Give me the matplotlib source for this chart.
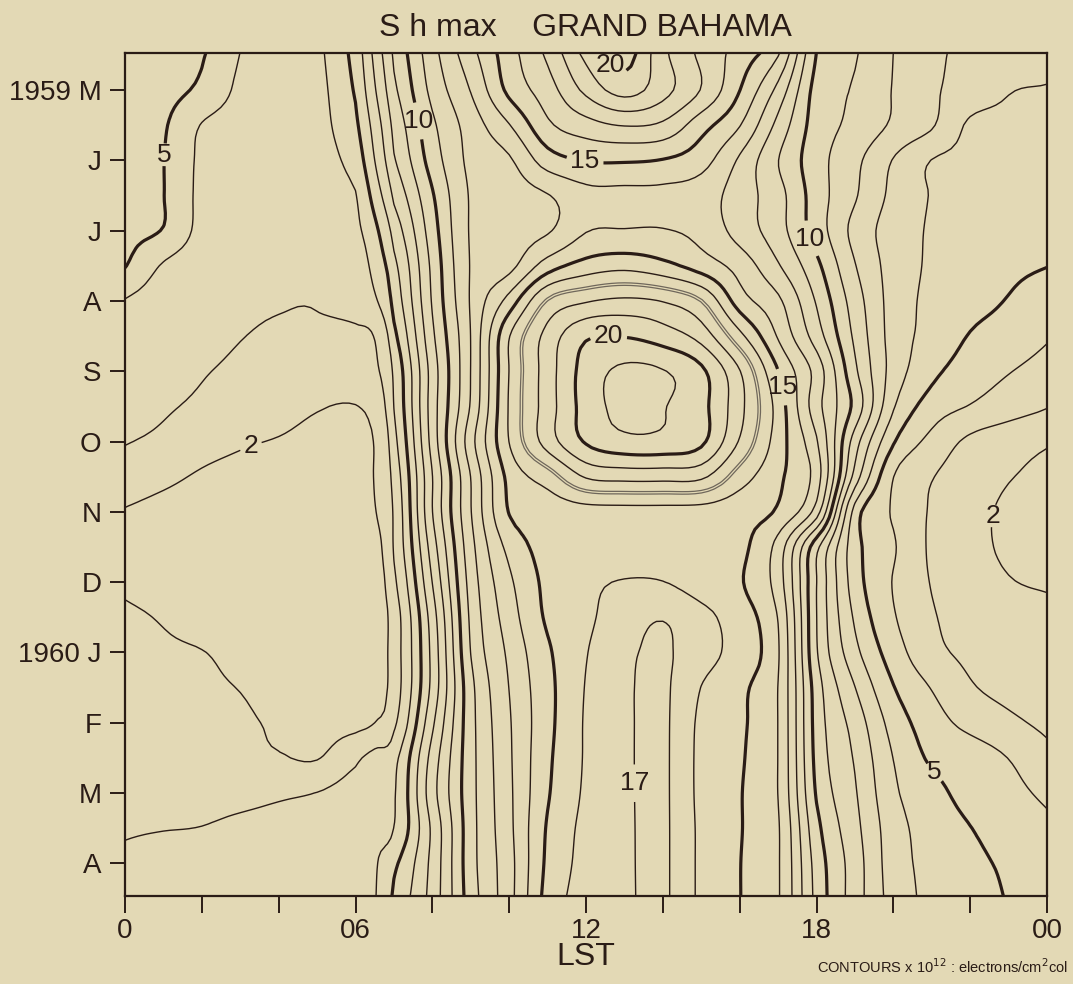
import numpy as np
import matplotlib
matplotlib.use("Agg")
import matplotlib.pyplot as plt

# ---- axes definitions -------------------------------------------------
# local solar time (hours) of the grid columns (extra node at 06.5 LST)
lst_hours = np.array([0, 1, 2, 3, 4, 5, 6, 6.5, 7, 8, 9, 10, 11, 12, 13, 14,
                      15, 16, 17, 18, 19, 20, 21, 22, 23, 24])
# month index of the grid rows (0 = May 1959, 11 = April 1960)
month_idx = np.array([-0.55, 0, 0.5, 1, 1.5, 2, 2.5, 3, 3.5, 4, 4.5, 5, 5.5,
                      6, 6.5, 7, 7.5, 8, 8.5, 9, 9.5, 10, 10.5, 11, 11.5])
month_ticks = np.arange(0, 12)
month_labels = ["1959 M", "J", "J", "A", "S", "O", "N", "D",
                "1960 J", "F", "M", "A"]
hour_ticks = np.arange(0, 25, 2)
hour_labels = {0: "0", 6: "06", 12: "12", 18: "18", 24: "00"}

# ---- S h max, x10^12 electrons/cm^2 column, one row per half month ----
apr59_15 = [5.6, 5.35, 5.1, 4.0, 3.6, 3.8, 5.35, 7.3, 9.2, 11.65, 13.7, 15.6, 17.25, 19.35, 20.5, 18.25, 16.75, 15.6, 14.2, 10.0, 9.1, 8.0, 7.2, 6.8, 6.55, 6.35]
may59_01 = [5.5, 5.3, 4.8, 3.8, 3.5, 3.7, 5.1, 6.9, 8.8, 11.3, 13.05, 15.25, 16.55, 18.25, 19.4, 18.35, 16.95, 15.02, 12.7, 9.65, 8.9, 7.95, 7.15, 6.6, 6.05, 5.95]
may59_15 = [5.4, 5.1, 3.95, 3.6, 3.45, 3.65, 4.8, 6.4, 8.3, 10.8, 12.45, 13.95, 15.8, 16.6, 17.05, 16.8, 15.4, 14.05, 11.7, 9.55, 8.75, 7.85, 7.1, 5.85, 5.8, 5.75]
jun59_01 = [5.35, 5.02, 3.8, 3.5, 3.4, 3.55, 4.4, 6.0, 7.9, 10.45, 12.25, 12.87, 14.5, 15.05, 15.1, 14.95, 14.4, 12.85, 11.02, 9.4, 8.25, 6.95, 5.98, 5.8, 5.6, 5.55]
jun59_15 = [5.3, 5.02, 3.75, 3.45, 3.35, 3.45, 3.95, 5.4, 7.2, 9.9, 12.1, 12.5, 12.95, 13.7, 13.75, 13.75, 13.5, 12.5, 11.35, 9.5, 8.1, 6.75, 5.95, 5.75, 5.55, 5.45]
jul59_01 = [5.25, 4.95, 3.7, 3.35, 3.25, 3.3, 3.75, 4.75, 6.4, 9.55, 12.1, 12.55, 12.9, 13.95, 14.05, 14.05, 13.7, 12.6, 11.4, 9.55, 7.7, 6.55, 5.9, 5.7, 5.45, 5.3]
jul59_15 = [5.05, 3.9, 3.4, 3.2, 3.1, 3.1, 3.35, 4.35, 5.75, 9.25, 12.06, 12.7, 14.5, 15.4, 15.7, 15.3, 14.55, 13.6, 12.1, 10.25, 8.05, 6.6, 5.85, 5.5, 5.2, 5.02]
aug59_01 = [3.95, 3.5, 3.2, 3.08, 3.03, 3.03, 3.25, 3.85, 5.35, 9.1, 12.1, 14.4, 17.1, 17.9, 18.2, 17.95, 17.02, 14.5, 13.2, 10.9, 8.5, 6.6, 5.75, 5.3, 4.95, 4.5]
aug59_15 = [3.7, 3.45, 3.2, 3.02, 2.92, 2.88, 2.85, 3.05, 4.75, 8.8, 12.02, 15.95, 18.35, 19.85, 19.95, 19.5, 18.6, 16.3, 13.9, 11.5, 8.8, 6.6, 5.65, 4.95, 4.6, 4.1]
sep59_01 = [3.45, 3.25, 3.05, 2.85, 2.6, 2.45, 2.5, 2.8, 4.2, 8.45, 12.02, 16.02, 18.5, 20.4, 21.2, 21.05, 20.2, 18.05, 15.02, 12.6, 9.2, 6.6, 5.25, 4.55, 4.05, 3.6]
sep59_15 = [3.3, 3.1, 2.85, 2.6, 2.3, 2.05, 1.98, 2.35, 4.02, 8.5, 12.1, 16.1, 18.5, 20.4, 21.3, 21.05, 20.3, 18.3, 15.6, 12.4, 9.7, 6.1, 4.55, 3.95, 3.45, 3.05]
oct59_01 = [3.05, 2.8, 2.35, 2.1, 1.95, 1.8, 1.85, 2.05, 3.7, 8.4, 12.6, 16.02, 18.45, 20.1, 20.7, 20.7, 20.2, 17.9, 15.5, 13.1, 8.5, 5.1, 3.7, 2.8, 2.4, 2.1]
oct59_15 = [2.5, 2.2, 1.9, 1.75, 1.6, 1.55, 1.6, 2.05, 3.4, 7.98, 12.02, 15.3, 16.5, 18.1, 18.35, 18.35, 18.2, 16.5, 15.2, 13.5, 7.6, 4.02, 3.05, 2.5, 2.05, 1.8]
nov59_01 = [1.95, 1.75, 1.6, 1.5, 1.45, 1.4, 1.5, 1.95, 3.15, 7.98, 11.95, 15.05, 15.4, 15.6, 15.65, 15.65, 15.6, 15.35, 14.85, 12.5, 5.6, 3.9, 2.9, 2.3, 1.85, 1.7]
nov59_15 = [1.8, 1.6, 1.5, 1.45, 1.4, 1.4, 1.5, 1.7, 3.1, 7.5, 11.65, 14.3, 15.35, 15.5, 15.55, 15.55, 15.5, 15.25, 13.6, 9.3, 5.4, 4.1, 2.85, 2.3, 1.85, 1.7]
dec59_01 = [1.9, 1.75, 1.55, 1.5, 1.45, 1.45, 1.55, 1.65, 2.8, 7.02, 11.4, 13.8, 15.25, 15.8, 16.05, 16.02, 15.55, 15.1, 13.5, 9.02, 5.5, 3.95, 2.95, 2.45, 2.05, 1.9]
dec59_15 = [2.1, 1.95, 1.7, 1.55, 1.5, 1.5, 1.6, 1.7, 2.5, 6.5, 11.2, 13.5, 15.15, 15.8, 16.55, 16.95, 16.3, 15.45, 13.95, 9.02, 5.85, 4.1, 3.1, 2.6, 2.35, 2.25]
jan60_01 = [2.2, 2.1, 2.02, 1.8, 1.6, 1.55, 1.65, 1.7, 2.5, 6.3, 11.02, 13.2, 14.85, 15.95, 16.8, 17.12, 16.4, 15.55, 14.1, 9.1, 6.3, 4.5, 3.3, 2.8, 2.55, 2.4]
jan60_15 = [2.35, 2.2, 2.1, 1.98, 1.75, 1.6, 1.65, 1.75, 2.5, 6.3, 10.7, 13.02, 14.7, 16.05, 16.85, 17.15, 15.98, 15.2, 13.98, 9.5, 7.02, 5.05, 3.95, 3.1, 2.75, 2.6]
feb60_01 = [2.5, 2.35, 2.2, 2.1, 1.9, 1.7, 1.75, 2.0, 2.8, 6.8, 10.65, 12.9, 14.7, 16.1, 16.85, 17.15, 15.8, 15.15, 13.98, 9.6, 7.6, 5.6, 4.45, 3.7, 3.2, 2.8]
feb60_15 = [2.65, 2.5, 2.35, 2.2, 2.07, 1.95, 2.8, 3.3, 3.7, 7.4, 10.65, 12.85, 14.8, 16.1, 16.85, 17.15, 15.75, 15.1, 13.98, 9.7, 7.9, 5.98, 4.85, 4.55, 3.98, 3.3]
mar60_01 = [2.8, 2.7, 2.65, 2.7, 2.85, 3.02, 3.45, 3.7, 3.9, 7.6, 10.65, 12.8, 14.9, 16.15, 16.85, 17.15, 15.75, 15.05, 13.98, 9.9, 8.1, 6.2, 5.3, 4.7, 4.3, 3.8]
mar60_15 = [2.95, 2.98, 3.02, 3.2, 3.35, 3.5, 3.7, 3.85, 4.02, 7.2, 10.6, 12.75, 15.1, 16.25, 16.85, 17.15, 15.8, 15.05, 14.1, 10.3, 8.3, 6.45, 5.55, 5.02, 4.65, 4.2]
apr60_01 = [3.1, 3.2, 3.3, 3.4, 3.5, 3.6, 3.75, 3.92, 4.8, 7.3, 10.6, 12.65, 15.2, 16.3, 16.85, 17.15, 15.8, 15.02, 14.1, 10.6, 8.5, 6.5, 5.7, 5.2, 4.85, 4.35]
apr60_15 = [3.3, 3.4, 3.5, 3.6, 3.7, 3.8, 3.9, 3.95, 5.2, 7.4, 10.5, 12.65, 15.35, 16.4, 16.85, 17.15, 15.8, 15.02, 14.1, 10.7, 8.5, 6.6, 5.75, 5.35, 4.95, 4.5]

contour_levels = list(range(2, 22))
heavy_levels = [5, 10, 15, 20]
# the closed 17 ring around the Sep-Oct maximum is drawn as a grey double line
ring_level = 17
ring_months = (2.3, 6.5)

# labelled contours: (level, LST hour, month index)
label_spots = [
    (5, 0.99, 0.92), (10, 7.73, 0.43), (15, 11.97, 1.02), (20, 12.68, -0.38),
    (20, 12.57, 3.66), (15, 17.31, 4.2), (10, 17.96, 2.09), (2, 3.33, 5.15),
    (2, 22.7, 6.07), (17, 13.35, 9.86), (5, 21.0, 9.74),
]

sh_max = np.array([apr59_15, may59_01, may59_15, jun59_01, jun59_15, jul59_01,
                   jul59_15, aug59_01, aug59_15, sep59_01, sep59_15, oct59_01,
                   oct59_15, nov59_01, nov59_15, dec59_01, dec59_15, jan60_01,
                   jan60_15, feb60_01, feb60_15, mar60_01, mar60_15, apr60_01,
                   apr60_15])


def catmull_rom(values, factor, axis):
    """Smooth resampling through the grid nodes (Catmull-Rom cubic)."""
    a = np.moveaxis(np.asarray(values, dtype=float), axis, 0)
    n = a.shape[0]
    padded = np.concatenate([2 * a[:1] - a[1:2], a, 2 * a[-1:] - a[-2:-1]])
    t = np.linspace(0, n - 1, (n - 1) * factor + 1)
    i = np.minimum(np.floor(t).astype(int), n - 2)
    u = (t - i).reshape((-1,) + (1,) * (a.ndim - 1))
    p0, p1, p2, p3 = padded[i], padded[i + 1], padded[i + 2], padded[i + 3]
    out = 0.5 * (2 * p1 + (p2 - p0) * u + (2 * p0 - 5 * p1 + 4 * p2 - p3) * u ** 2
                 + (3 * p1 - p0 - 3 * p2 + p3) * u ** 3)
    return np.moveaxis(out, 0, axis), t


fine, ti = catmull_rom(sh_max, 6, 0)
fine, tj = catmull_rom(fine, 6, 1)
fine_months = np.interp(ti, np.arange(len(month_idx)), month_idx)
fine_hours = np.interp(tj, np.arange(len(lst_hours)), lst_hours)

in_ring = (fine_months > ring_months[0]) & (fine_months < ring_months[1])
in_ring = np.broadcast_to(in_ring[:, None], fine.shape)
fine_ring = np.ma.masked_where(~in_ring, fine)
fine_rest = np.ma.masked_where(in_ring, fine)

# ---- styling ----------------------------------------------------------
paper = "#e3d9b5"
ink = "#2a1c16"
ring_grey = "#6f675b"
plt.rcParams["font.family"] = ["Liberation Sans", "DejaVu Sans"]

fig = plt.figure(figsize=(10.73, 9.84), dpi=100, facecolor=paper)
ax = fig.add_axes([0.1165, 0.0894, 0.8593, 0.8567], facecolor=paper)

# one contour set per level so each can be labelled on its own
level_sets = {}
for lev in contour_levels:
    lw = 2.3 if lev in heavy_levels else 1.0
    if lev == ring_level:
        ax.contour(fine_hours, fine_months, fine_ring, levels=[lev],
                   colors=ring_grey, linewidths=2.7)
        ax.contour(fine_hours, fine_months, fine_ring, levels=[lev],
                   colors=paper, linewidths=0.9)
        level_sets[lev] = ax.contour(fine_hours, fine_months, fine_rest,
                                     levels=[lev], colors=ink, linewidths=lw)
    else:
        level_sets[lev] = ax.contour(fine_hours, fine_months, fine,
                                     levels=[lev], colors=ink, linewidths=lw)

for lev, hx, my in label_spots:
    ax.clabel(level_sets[lev], manual=[(hx, my)], fmt="%d",
              fontsize=19, inline=True, inline_spacing=4, colors=ink)
for t in ax.texts:
    t.set_rotation(0)

ax.set_xlim(0, 24)
ax.set_ylim(11.465, -0.526)

ax.set_xticks(hour_ticks)
ax.set_xticklabels([hour_labels.get(h, "") for h in hour_ticks])
ax.set_yticks(month_ticks)
ax.set_yticklabels(month_labels)
ax.tick_params(axis="y", direction="out", length=11, width=1.4, pad=6,
               labelsize=20, colors=ink)
ax.tick_params(axis="x", direction="out", length=12, width=1.4, pad=4,
               labelsize=20, colors=ink)
for sp in ax.spines.values():
    sp.set_linewidth(1.6)
    sp.set_color(ink)

fig.text(0.546, 0.972, "S h max    GRAND BAHAMA", ha="center", va="center",
         fontsize=23, color=ink)
fig.text(0.546, 0.027, "LST", ha="center", va="center", fontsize=23, color=ink)
fig.text(0.995, 0.018, r"CONTOURS x 10$^{12}$ : electrons/cm$^{2}$col",
         ha="right", va="center", fontsize=10.5, color=ink)

fig.savefig("out.png", dpi=100, facecolor=paper)
